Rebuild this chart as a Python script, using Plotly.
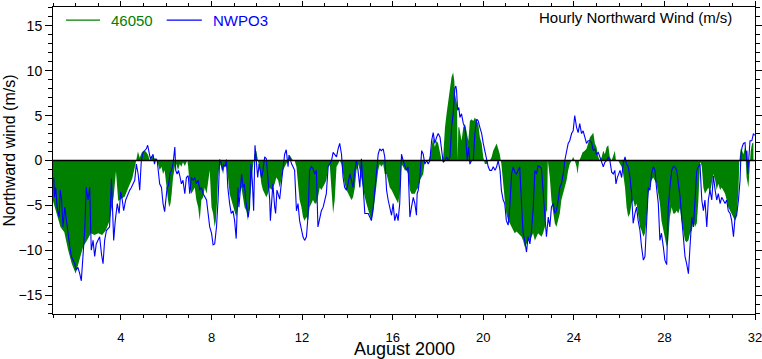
import plotly.graph_objects as go

# ---- Data (day of August 2000, value in m/s) ----
green_day = [1.0, 1.1, 1.17, 1.33, 1.5, 1.67, 1.83, 2.0, 2.17, 2.33, 2.5, 2.67, 2.83, 3.0, 3.17, 3.33, 3.5, 3.6, 3.68, 3.78, 3.88, 4.0, 4.17, 4.33, 4.5, 4.65, 4.75,
             4.83, 4.92, 5.0, 5.1, 5.2, 5.27, 5.33, 5.42, 5.5, 5.57, 5.64, 5.71, 5.79, 5.86, 5.93, 6.01, 6.08, 6.13, 6.19, 6.24, 6.30, 6.38, 6.45, 6.52, 6.60, 6.67, 6.74, 6.82, 6.89, 6.93, 6.97, 7.04, 7.11, 7.19, 7.26, 7.33, 7.41, 7.48, 7.55, 7.63, 7.70, 7.78, 7.85, 7.92, 8.0, 8.07, 8.14, 8.19, 8.25, 8.29, 8.36, 8.44, 8.51, 8.59, 8.66, 8.73,
             8.80, 8.87, 8.95, 9.02, 9.09, 9.17, 9.24, 9.32, 9.39, 9.46, 9.54, 9.61, 9.68, 9.76, 9.83, 9.90, 9.98, 10.05, 10.13, 10.20, 10.27, 10.35, 10.42, 10.49, 10.57, 10.64, 10.71, 10.79, 10.86, 10.94, 11.01, 11.08, 11.16, 11.23, 11.31, 11.38, 11.45, 11.53, 11.60, 11.67, 11.75, 11.82, 11.89, 11.97, 12.04, 12.11, 12.19, 12.26, 12.33, 12.41, 12.48, 12.56, 12.63, 12.70,
             12.78, 12.85, 12.93, 13.0, 13.07, 13.15, 13.22, 13.30, 13.37, 13.44, 13.52, 13.59, 13.66, 13.74, 13.81, 13.88, 13.96, 14.03, 14.11, 14.18, 14.25, 14.33, 14.40, 14.47, 14.55, 14.62, 14.69, 14.77, 14.84, 14.92, 14.99, 15.06, 15.14, 15.21, 15.28, 15.36, 15.43, 15.50, 15.58, 15.65, 15.73, 15.80, 15.87, 15.95, 16.02, 16.09, 16.17, 16.24, 16.31, 16.39, 16.46, 16.54, 16.61, 16.68,
             16.76, 16.83, 16.91, 16.98, 17.05, 17.13, 17.20, 17.28, 17.35, 17.42, 17.50, 17.57, 17.64, 17.72, 17.79, 17.86, 17.94, 18.01, 18.09, 18.16, 18.23, 18.31, 18.38, 18.45, 18.53, 18.60, 18.67, 18.72, 18.75, 18.84, 18.87, 18.90, 18.94, 18.99, 19.04, 19.12, 19.19, 19.26, 19.34, 19.41, 19.48, 19.56, 19.63, 19.71, 19.78, 19.85, 19.93, 20.0, 20.07, 20.15, 20.22, 20.29, 20.37, 20.44, 20.52, 20.59, 20.66,
             20.73, 20.80, 20.88, 20.95, 21.02, 21.10, 21.17, 21.25, 21.32, 21.39, 21.47, 21.54, 21.61, 21.69, 21.76, 21.83, 21.91, 21.98, 22.06, 22.13, 22.20, 22.28, 22.35, 22.42, 22.50, 22.57, 22.64, 22.72, 22.79, 22.82, 22.85, 22.88, 22.94, 23.01, 23.09, 23.16, 23.23, 23.31, 23.38, 23.45, 23.53, 23.60, 23.68, 23.75, 23.82, 23.90, 23.97, 24.04, 24.12, 24.16, 24.24, 24.31, 24.38, 24.48, 24.56, 24.63,
             24.71, 24.78, 24.86, 24.93, 25.0, 25.08, 25.15, 25.23, 25.30, 25.37, 25.45, 25.52, 25.59, 25.67, 25.74, 25.81, 25.86, 25.96, 26.04, 26.11, 26.18, 26.26, 26.33, 26.40, 26.48, 26.55, 26.62, 26.70, 26.77, 26.84, 26.92, 26.99, 27.07, 27.14, 27.21, 27.29, 27.36, 27.43, 27.51, 27.58, 27.65, 27.73, 27.80, 27.87, 27.95, 28.02, 28.10, 28.17, 28.24, 28.32, 28.39, 28.46, 28.54, 28.61,
             28.69, 28.76, 28.84, 28.91, 28.98, 29.06, 29.13, 29.21, 29.28, 29.35, 29.43, 29.50, 29.57, 29.60, 29.65, 29.72, 29.79, 29.87, 29.94, 30.01, 30.09, 30.16, 30.24, 30.31, 30.38, 30.46, 30.53, 30.60, 30.68, 30.75, 30.82, 30.90, 30.97, 31.05, 31.12, 31.19, 31.27, 31.31, 31.37, 31.43, 31.49, 31.56, 31.63, 31.71, 31.75, 31.81, 31.87, 31.93]
green_val = [-4.5, -5.5, -6, -7.4, -8, -10, -11.5, -12.6, -11, -9.6, -8.9, -8.1, -8.3, -8.1, -8.3, -7.8, -6.7, -5, -4, -1.2, -4.5, -4.3, -4, -3, -2, -0.3, 1,
             0.3, 0.9, 1.1, 1.0, 0.6, 0, 0.5, 0.4, 0.2, 0, -0.4, -1.1, -0.7, -1.5, -1.1, -3.3, -4.4, -5.2, -4.8, -3.7, -1.9, -0.7, -0.4, -1.1, -0.4, -0.7, -0.2, -0.6, -0.2, 0, -0.7, -3, -3.7, -3.3, -3, -4.4, -5.2, -6.7, -4.4, -4.1, -3, -3.7, -2.2, -1.1, -5.2, -5.9, -7.4, -6.7, -4.4, -1.9, -0.4, -0.7, -1.5, -0.4, -0.7, -1.9,
             -3.7, -4.4, -5.2, -5.6, -6.3, -5.2, -3.7, -3, -4.4, -5.2, -5.6, -6.7, -4.8, -2.2, -0.7, 0.7, 1.1, 0, -1.1, -2.6, -3.3, -3.7, -4.1, -3.7, -3, -3.3, -3, -2.6, -1.9, -2.2, -3, -2.2, -1.1, -0.7, -0.4, 0, 0.6, 0.2, 0, 0, -0.7, -2.6, -4.4, -5.2, -6.3, -6.7, -6.3, -6.7, -5.2, -4.8, -4.4, -4.8, -4.8, -4.1,
             -3, -3.3, -3, -2.6, -2.2, -0.7, -0.4, -3, -5.9, -4.4, -0.7, -0.4, 0, -0.4, -1.5, -2.6, -3.3, -3.7, -4.1, -4.4, -4.1, -3, -1.1, -0.4, -1.1, -2.2, -3.3, -4.1, -4.8, -5.6, -6.3, -6.7, -5.9, -4.4, -2.6, -1.1, -0.4, -0.7, -0.4, -1.5, -1.5, -2.2, -3, -3.3, -3.7, -4.1, -4.4, -4.8, -3.7, -0.4, -0.7, -1.1, -1.1, -1.5,
             -3.3, -3.7, -3.7, -3.7, -3.3, -3, -2.2, -1.9, -1.5, 0, 0, 0, 0.4, 1.9, 2.6, 1.5, 2.2, 1.9, 0.7, 0, 0.4, 3.7, 5.2, 6.7, 8.1, 9.3, 9.8, 8.9, 7.4, 6.3, 0, 3.7, 3.7, 2.6, 2.2, 3.7, 4.1, 3.3, 2.2, 4.4, 4.6, 4.4, 4.8, 4.4, 4.1, 2.6, 1.9, 0.4, -0.4, -0.4, 0, 0, 0.4, 1.1, 1.5, 1.9, 1.3,
             0.7, -0.4, -3, -4.4, -5.9, -6.7, -7, -7.4, -7.8, -8.1, -7.9, -8.1, -8.3, -8.5, -8.9, -9.6, -9.3, -8.9, -8.9, -8.5, -8.1, -8.9, -8.5, -8.1, -8.3, -8.5, -8.1, -7.4, -5.6, -5.6, 0, -0.7, -1.9, -4.4, -5.9, -7, -7.4, -6.7, -5.9, -4.4, -3.7, -3, -2.2, -1.1, -0.4, 0, 0.4, 0, -0.7, -1.5, 0, 0.4, 0.9, 1.1, 1.3, 1.9,
             2.6, 2.8, 3.1, 1.9, 1.5, 0.4, 0, 0.4, 1.1, 0.7, 1.5, 1.7, 0.4, 0, 0.7, 1.1, 0, 0, -0.4, -0.7, -1.5, -3, -5.2, -6.3, -5.9, -4.8, -4.4, -5.2, -4.8, -5.9, -7.4, -7.8, -8.5, -8.1, -6.7, -3.7, -3, -2.2, -1.9, -2.2, -2.6, -3.7, -4.8, -6.7, -7.8, -8.9, -9.6, -8.9, -6.3, -5.2, -5.9, -5.9, -5.6, -5.9,
             -5.3, -6.8, -8.1, -8.9, -9.1, -8.9, -8.1, -7.8, -6.7, -7.4, -7.0, -4.4, -0.4, -0.2, -0.7, -3, -3.7, -3.3, -3, -3.7, -2.6, -1.5, -2.2, -3.3, -2.6, -3.3, -3, -3.3, -3.7, -4.4, -5.2, -5.6, -5.9, -6.3, -6.7, -6.3, -3.3, 0, 1.3, 1.1, 0.7, 1.5, -1.9, -3, -1.1, 1.1, 1.9, 2.0]

blue_day = [1.03, 1.07, 1.12, 1.18, 1.27, 1.32, 1.38, 1.44, 1.52, 1.59, 1.66, 1.74, 1.81, 1.88, 1.96, 2.03, 2.10, 2.18, 2.25, 2.33, 2.40, 2.47, 2.55, 2.62, 2.65, 2.69, 2.77, 2.84, 2.91, 3.06, 3.14, 3.21, 3.28, 3.36, 3.43, 3.50, 3.58, 3.62, 3.68, 3.75, 3.84, 3.92, 3.99, 4.06, 4.12, 4.21, 4.31, 4.39, 4.46, 4.53, 4.61, 4.68, 4.76,
            4.83, 4.90, 4.98, 5.05, 5.12, 5.18, 5.24, 5.30, 5.36, 5.42, 5.48, 5.54, 5.60, 5.65, 5.71, 5.79, 5.86, 5.93, 5.98, 6.04, 6.10, 6.16, 6.23, 6.30, 6.38, 6.42, 6.48, 6.54, 6.60, 6.67, 6.74, 6.82, 6.89, 6.97, 7.04, 7.11, 7.19, 7.26, 7.33, 7.41, 7.48, 7.55, 7.63, 7.70, 7.78, 7.85, 7.92, 8.0, 8.07, 8.14, 8.22, 8.29, 8.36, 8.42, 8.48, 8.54, 8.60, 8.66, 8.72,
            8.80, 8.87, 8.95, 9.02, 9.09, 9.17, 9.21, 9.27, 9.33, 9.39, 9.45, 9.51, 9.57, 9.62, 9.68, 9.74, 9.80, 9.86, 9.92, 9.98, 10.04, 10.10, 10.16, 10.21, 10.27, 10.35, 10.42, 10.49, 10.57, 10.60, 10.66, 10.71, 10.79, 10.83, 10.89, 10.95, 11.01, 11.08, 11.16, 11.23, 11.30, 11.38, 11.42, 11.48, 11.54, 11.60, 11.67, 11.75, 11.82, 11.89, 11.97, 12.04, 12.11, 12.19, 12.26, 12.33, 12.41, 12.48, 12.56, 12.63, 12.70,
            12.78, 12.85, 12.93, 13.0, 13.07, 13.15, 13.22, 13.30, 13.37, 13.44, 13.52, 13.59, 13.66, 13.74, 13.81, 13.88, 13.96, 14.03, 14.11, 14.18, 14.25, 14.33, 14.40, 14.47, 14.55, 14.62, 14.69, 14.77, 14.84, 14.92, 14.99, 15.06, 15.14, 15.21, 15.28, 15.36, 15.43, 15.50, 15.58, 15.65, 15.73, 15.80, 15.87, 15.95, 16.02, 16.09, 16.17, 16.24, 16.31, 16.39, 16.46, 16.54, 16.61, 16.68,
            16.76, 16.83, 16.91, 16.98, 17.05, 17.08, 17.13, 17.20, 17.23, 17.28, 17.35, 17.42, 17.50, 17.57, 17.64, 17.72, 17.79, 17.86, 17.94, 18.01, 18.09, 18.16, 18.23, 18.31, 18.38, 18.45, 18.53, 18.60, 18.67, 18.75, 18.79, 18.82, 18.87, 18.92, 18.97, 19.04, 19.12, 19.19, 19.23, 19.29, 19.35, 19.41, 19.48, 19.56, 19.63, 19.71, 19.78, 19.85, 19.93, 20.0, 20.07, 20.15, 20.22, 20.29, 20.37, 20.44, 20.52, 20.59, 20.66,
            20.74, 20.80, 20.88, 20.95, 21.02, 21.10, 21.17, 21.25, 21.32, 21.39, 21.47, 21.54, 21.61, 21.69, 21.76, 21.83, 21.91, 21.98, 22.06, 22.13, 22.20, 22.28, 22.35, 22.42, 22.50, 22.57, 22.64, 22.72, 22.79, 22.87, 22.94, 23.01, 23.09, 23.16, 23.23, 23.31, 23.38, 23.45, 23.53, 23.60, 23.68, 23.75, 23.82, 23.90, 23.97, 24.04, 24.12, 24.19, 24.26, 24.34, 24.41, 24.49, 24.56, 24.63,
            24.71, 24.78, 24.86, 24.93, 25.0, 25.08, 25.15, 25.23, 25.30, 25.37, 25.45, 25.52, 25.59, 25.67, 25.74, 25.81, 25.86, 25.92, 25.98, 26.04, 26.11, 26.18, 26.26, 26.33, 26.40, 26.48, 26.55, 26.62, 26.70, 26.77, 26.84, 26.92, 26.99, 27.07, 27.14, 27.21, 27.29, 27.36, 27.43, 27.51, 27.58, 27.65, 27.73, 27.80, 27.87, 27.95, 28.02, 28.10, 28.17, 28.24, 28.32, 28.39, 28.46, 28.54, 28.61,
            28.69, 28.76, 28.84, 28.91, 28.98, 29.06, 29.13, 29.21, 29.28, 29.35, 29.43, 29.50, 29.57, 29.65, 29.72, 29.79, 29.87, 29.94, 30.01, 30.09, 30.16, 30.24, 30.31, 30.38, 30.46, 30.53, 30.60, 30.68, 30.75, 30.82, 30.90, 30.97, 31.05, 31.12, 31.19, 31.27, 31.34, 31.38, 31.43, 31.49, 31.56, 31.61, 31.64, 31.68, 31.72, 31.78, 31.86, 31.93, 31.98]
blue_val = [-1.9, -4.1, -3, -5.2, -6.3, -3.3, -4.4, -7.4, -5.2, -6.7, -8.1, -9.6, -10.7, -11.1, -11.5, -12.2, -11.9, -12.6, -13.4, -10.4, -7.8, -3, -4.4, -3, -7.4, -10, -8.9, -10.7, -9.3, -8.5, -10.4, -11.5, -8.9, -7.8, -7.6, -7.4, -2.0, -5.2, -8.9, -6.7, -4.8, -5.9, -3.5, -4.4, -5.6, -4.4, -3.7, -3.3, -3, -2.6, -2.2, -0.4, -1.5,
            -3.3, 0, 0.9, 1.1, 1.3, 1.7, 1.1, 0.2, 0.4, 0.7, -0.4, 0.2, 0, -1.1, -2.6, -3, -4.8, -5.7, -4.4, -3, -2.8, -1.5, -1.1, -0.4, 1.5, -1.1, -1.5, -1.1, -1.7, -2.6, -2.2, -3.7, -1.9, -1.7, -3.7, -1.9, -2.2, -1.9, -2.6, -2.2, -3.3, -3, -3.7, -4.1, -4.4, -5.9, -7.4, -8.1, -9.4, -9.3, -7.4, -4.4, 0.1, -0.2, -1.1, -0.4, -0.7, 0.1, -3,
            -4.8, -5.9, -5.6, -6.7, -8.7, -3, -5.2, -3.7, -1.5, -3, -2.6, -4.4, -5.2, -6.3, -5.2, -0.4, -2.2, -5.6, 1.7, 0, -1.9, -0.4, -1.5, -1.9, -1.1, 0.4, 0.2, -2.2, -4.4, -6.7, -3.7, -2.6, -5.2, -5.9, -3.3, -3.7, -4.3, -2.6, -0.4, 0.7, 1.2, -0.7, 0.6, 0, -0.4, -0.7, -1.1, -5.6, -4.8, -6.7, -7.8, -8.5, -8.9, -8.5, -6.3, -1.1, -0.7, -0.9, -1.5, -1.1, -7.4,
            -6.3, -5.6, -5.2, -4.4, -3.7, -0.7, -0.4, 0, 0.9, 0.7, 0.4, 1.3, 1.9, 0.7, -1.9, -3, -3.3, -2.6, -1.5, -2.2, -3, -1.1, 0, -1.1, -3, 0.2, -3.3, -5.9, -5.9, -5.9, -6.3, -6.7, -5.2, -3.7, -1.5, 0.7, 1.3, 1.1, 1.3, 0.4, -3.3, -4.4, -5.2, -6.1, -4.8, -6.7, -5.9, -6.7, -4.8, 0.7, 0, -0.7, -1.1, -0.7,
            -6.3, -5.2, -4.1, -4.8, -6.1, -3.7, -3.3, -1.9, -0.7, 1.1, 0.7, -0.4, 0, -0.4, 0, 2.2, 3.1, 1.9, 2.6, 3.0, 2.6, 1.1, -0.2, 0, 0.4, 0, 0.4, 3.7, 5.2, 8.1, 8.3, 7.8, 5.6, 5.9, 4.8, 5.2, 4.1, 3.7, 2.6, 0, 1.5, -0.4, 0, 0, 3.0, 4.6, 4.4, 3.7, 3.0, 1.9, 1.1, 0, -0.7, -1.1, -1.1, -0.7, -1.1, -0.7, 0,
            -1.1, -3.3, -4.4, -4.8, -6.7, -7.2, -5.2, -1.5, -0.7, -1.3, -1.5, -1.1, -0.7, -4.8, -8.1, -8.9, -10.2, -8.5, -9.3, -7.8, -5.6, -1.1, -1.5, -0.6, -0.7, -0.9, -3, -5.9, -8.5, -6.3, -7.4, -5.2, -4.8, -5.9, -5.6, -4.4, -3, -2.6, -1.5, 0, 1.1, 1.9, 2.2, 3.0, 3.3, 5.0, 3.7, 3.1, 4.1, 3.0, 3.3, 2.6, 1.9, 2.2,
            2.2, 2.0, 1.1, 1.3, 0.7, 0.9, 0.4, -0.4, -0.7, -0.2, 0, 0.4, 0, -1.3, -1.5, -1.1, -2.6, -1.9, -1.5, -1.1, -1.9, -0.4, 0.4, -0.4, -0.7, -1.9, -3.7, -7.0, -5.9, -5.2, -6.7, -7.8, -9.6, -11.1, -10.7, -6.7, -3, -3.3, -1.5, -0.7, -1.1, -3, -4.8, -8.9, -8.1, -9.6, -11.1, -11.6, -5.2, -3, -1.1, -0.7, -0.7, -1.1, -2.6,
            -4, -6.3, -8.9, -10.7, -11.5, -12.6, -9.6, -6.3, -7.4, -4.4, -1.1, -0.7, -0.4, -4.4, -5.6, -4.4, -7.4, -4.4, -3.3, -4.4, -1.7, -3.3, -4.4, -3.7, -4.8, -4.1, -4.4, -4.8, -4.4, -5.6, -5.9, -6.7, -8.5, -6.3, -6.1, -4.4, -2.2, 0.7, 1.5, 1.9, 2.0, 0, 1.1, -1.5, 0, 2.2, 2.2, 3.0, 2.8]

x_ticks = [4, 8, 12, 16, 20, 24, 28, 32]
y_ticks = [-15, -10, -5, 0, 5, 10, 15]

GREEN = "#008000"
BLUE = "#0000ff"
FONT = "Liberation Sans, Arial, Helvetica, sans-serif"

fig = go.Figure()
fig.add_trace(go.Scatter(x=green_day, y=green_val, mode="lines",
                         line=dict(width=0, color=GREEN), fill="tozeroy",
                         fillcolor=GREEN, showlegend=False, hoverinfo="skip"))
fig.add_trace(go.Scatter(x=blue_day, y=blue_val, mode="lines",
                         line=dict(width=1.1, color=BLUE), showlegend=False,
                         hoverinfo="skip"))

axis_common = dict(showline=True, linecolor="black", linewidth=1, mirror="ticks",
                   ticks="outside", tickwidth=1, tickcolor="black",
                   showgrid=False, zeroline=False, automargin=False,
                   ticklabeloverflow="allow")
fig.update_xaxes(range=[1, 32], tickmode="array", tickvals=x_ticks, ticklen=5,
                 ticklabelstandoff=6,
                 tickfont=dict(family=FONT, size=13, color="black"),
                 minor=dict(ticks="outside", ticklen=3, tickwidth=1, tickcolor="black",
                            dtick=1, tick0=0, showgrid=False), **axis_common)
fig.update_yaxes(range=[-17.1, 17.1], tickmode="array", tickvals=y_ticks, ticklen=7,
                 tickfont=dict(family=FONT, size=14, color="black"),
                 minor=dict(ticks="outside", ticklen=4, tickwidth=1, tickcolor="black",
                            dtick=1, tick0=0, showgrid=False), **axis_common)

# zero line on top of the fill
fig.add_shape(type="line", xref="paper", yref="y", x0=0, x1=1, y0=0, y1=0,
              line=dict(color="black", width=1.3), layer="above")

# legend (manual)
fig.add_shape(type="line", xref="paper", yref="paper", x0=0.0185, x1=0.067, y0=0.957, y1=0.957,
              line=dict(color=GREEN, width=1.2))
fig.add_annotation(xref="paper", yref="paper", x=0.081, y=0.957, text="46050",
                   showarrow=False, xanchor="left", yanchor="middle", borderpad=0,
                   font=dict(family=FONT, size=15, color=GREEN))
fig.add_shape(type="line", xref="paper", yref="paper", x0=0.162, x1=0.212, y0=0.957, y1=0.957,
              line=dict(color=BLUE, width=1.2))
fig.add_annotation(xref="paper", yref="paper", x=0.2265, y=0.957, text="NWPO3",
                   showarrow=False, xanchor="left", yanchor="middle", borderpad=0,
                   font=dict(family=FONT, size=15, color=BLUE))
fig.add_annotation(xref="paper", yref="paper", x=0.969, y=0.965, text="Hourly Northward Wind (m/s)",
                   showarrow=False, xanchor="right", yanchor="middle", borderpad=0,
                   font=dict(family=FONT, size=15, color="black"))
fig.add_annotation(xref="paper", yref="paper", x=0.501, y=-0.113, text="August 2000",
                   showarrow=False, xanchor="center", yanchor="middle", borderpad=0,
                   font=dict(family=FONT, size=18, color="black"))
fig.add_annotation(xref="paper", yref="paper", x=-0.062, y=0.534, text="Northward wind (m/s)",
                   showarrow=False, xanchor="center", yanchor="middle", textangle=-90,
                   font=dict(family=FONT, size=16, color="black"))

fig.update_layout(width=762, height=359, margin=dict(l=53, r=7, t=7, b=45, autoexpand=False),
                  paper_bgcolor="white", plot_bgcolor="white",
                  font=dict(family=FONT, color="black"))

fig.write_html("out.html", config={"displayModeBar": False},
               post_script="document.body.style.margin='0';document.body.style.padding='0';"
                           "document.body.style.overflow='hidden';")
